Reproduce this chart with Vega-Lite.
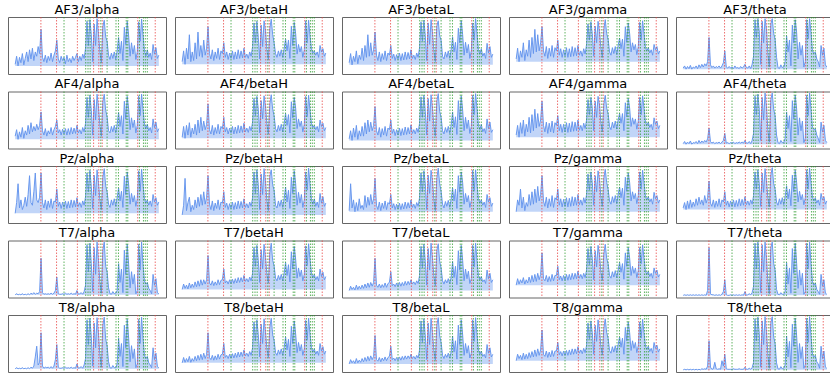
{
"$schema": "https://vega.github.io/schema/vega-lite/v6.json",
"padding": {"left": 7, "top": 3, "right": 0, "bottom": 0},
"background": "white",
"datasets": {"names": [
{"k":"a1","name":"AF3/alpha"},{"k":"a2","name":"AF3/betaH"},{"k":"a3","name":"AF3/betaL"},{"k":"a4","name":"AF3/gamma"},{"k":"a5","name":"AF3/theta"},
{"k":"b1","name":"AF4/alpha"},{"k":"b2","name":"AF4/betaH"},{"k":"b3","name":"AF4/betaL"},{"k":"b4","name":"AF4/gamma"},{"k":"b5","name":"AF4/theta"},
{"k":"c1","name":"Pz/alpha"},{"k":"c2","name":"Pz/betaH"},{"k":"c3","name":"Pz/betaL"},{"k":"c4","name":"Pz/gamma"},{"k":"c5","name":"Pz/theta"},
{"k":"d1","name":"T7/alpha"},{"k":"d2","name":"T7/betaH"},{"k":"d3","name":"T7/betaL"},{"k":"d4","name":"T7/gamma"},{"k":"d5","name":"T7/theta"},
{"k":"e1","name":"T8/alpha"},{"k":"e2","name":"T8/betaH"},{"k":"e3","name":"T8/betaL"},{"k":"e4","name":"T8/gamma"},{"k":"e5","name":"T8/theta"}]},
"data": {"values": [
{"t":0,"a1":15,"a2":20,"a3":18,"a4":25,"a5":8,"b1":20,"b2":18,"b3":15,"b4":22,"b5":6,"c1":15,"c2":12,"c3":20,"c4":18,"c5":25,"d1":2,"d2":12,"d3":10,"d4":20,"d5":1,"e1":3,"e2":14,"e3":12,"e4":18,"e5":1},
{"t":10,"a1":30,"a2":40,"a3":35,"a4":45,"a5":12,"b1":32,"b2":38,"b3":30,"b4":40,"b5":10,"c1":35,"c2":30,"c3":70,"c4":40,"c5":35,"d1":4,"d2":22,"d3":18,"d4":32,"d5":2,"e1":5,"e2":24,"e3":20,"e4":30,"e5":2},
{"t":20,"a1":12,"a2":15,"a3":14,"a4":20,"a5":6,"b1":14,"b2":16,"b3":12,"b4":18,"b5":5,"c1":70,"c2":80,"c3":25,"c4":30,"c5":22,"d1":2,"d2":14,"d3":12,"d4":22,"d5":1,"e1":3,"e2":15,"e3":14,"e4":22,"e5":1},
{"t":30,"a1":28,"a2":45,"a3":30,"a4":40,"a5":11,"b1":28,"b2":40,"b3":35,"b4":45,"b5":9,"c1":25,"c2":20,"c3":40,"c4":60,"c5":38,"d1":3,"d2":20,"d3":16,"d4":30,"d5":2,"e1":4,"e2":22,"e3":18,"e4":28,"e5":2},
{"t":40,"a1":18,"a2":25,"a3":20,"a4":28,"a5":7,"b1":18,"b2":22,"b3":18,"b4":25,"b5":6,"c1":40,"c2":35,"c3":18,"c4":25,"c5":24,"d1":2,"d2":13,"d3":11,"d4":24,"d5":1,"e1":3,"e2":16,"e3":13,"e4":20,"e5":1},
{"t":50,"a1":35,"a2":70,"a3":40,"a4":55,"a5":13,"b1":36,"b2":45,"b3":40,"b4":50,"b5":11,"c1":22,"c2":45,"c3":35,"c4":45,"c5":40,"d1":4,"d2":24,"d3":20,"d4":34,"d5":2,"e1":5,"e2":26,"e3":22,"e4":32,"e5":2},
{"t":60,"a1":14,"a2":20,"a3":16,"a4":22,"a5":6,"b1":16,"b2":18,"b3":14,"b4":20,"b5":5,"c1":30,"c2":18,"c3":20,"c4":20,"c5":26,"d1":2,"d2":15,"d3":12,"d4":22,"d5":1,"e1":3,"e2":15,"e3":14,"e4":21,"e5":1},
{"t":70,"a1":26,"a2":38,"a3":32,"a4":42,"a5":10,"b1":30,"b2":35,"b3":30,"b4":42,"b5":8,"c1":45,"c2":30,"c3":42,"c4":35,"c5":36,"d1":3,"d2":22,"d3":18,"d4":30,"d5":2,"e1":4,"e2":22,"e3":19,"e4":30,"e5":2},
{"t":80,"a1":38,"a2":22,"a3":24,"a4":30,"a5":8,"b1":22,"b2":24,"b3":20,"b4":28,"b5":7,"c1":28,"c2":22,"c3":24,"c4":28,"c5":28,"d1":2,"d2":16,"d3":13,"d4":24,"d5":1,"e1":3,"e2":17,"e3":15,"e4":22,"e5":1},
{"t":90,"a1":20,"a2":55,"a3":45,"a4":60,"a5":12,"b1":40,"b2":42,"b3":38,"b4":55,"b5":10,"c1":50,"c2":40,"c3":30,"c4":50,"c5":42,"d1":4,"d2":26,"d3":20,"d4":35,"d5":2,"e1":5,"e2":26,"e3":22,"e4":33,"e5":2},
{"t":100,"a1":42,"a2":25,"a3":22,"a4":28,"a5":7,"b1":24,"b2":22,"b3":20,"b4":26,"b5":6,"c1":85,"c2":25,"c3":22,"c4":30,"c5":30,"d1":2,"d2":17,"d3":14,"d4":25,"d5":1,"e1":3,"e2":18,"e3":16,"e4":24,"e5":1},
{"t":110,"a1":25,"a2":75,"a3":50,"a4":65,"a5":14,"b1":45,"b2":50,"b3":45,"b4":60,"b5":12,"c1":35,"c2":45,"c3":48,"c4":55,"c5":45,"d1":5,"d2":28,"d3":22,"d4":38,"d5":2,"e1":6,"e2":28,"e3":24,"e4":35,"e5":2},
{"t":120,"a1":45,"a2":30,"a3":28,"a4":35,"a5":9,"b1":28,"b2":26,"b3":24,"b4":30,"b5":7,"c1":30,"c2":28,"c3":26,"c4":32,"c5":32,"d1":3,"d2":18,"d3":15,"d4":26,"d5":1,"e1":4,"e2":19,"e3":17,"e4":25,"e5":1},
{"t":130,"a1":22,"a2":50,"a3":70,"a4":80,"a5":15,"b1":38,"b2":55,"b3":50,"b4":70,"b5":11,"c1":55,"c2":50,"c3":45,"c4":60,"c5":40,"d1":6,"d2":30,"d3":24,"d4":40,"d5":2,"e1":8,"e2":30,"e3":26,"e4":38,"e5":3},
{"t":140,"a1":38,"a2":28,"a3":30,"a4":38,"a5":10,"b1":30,"b2":30,"b3":28,"b4":35,"b5":8,"c1":90,"c2":30,"c3":30,"c4":35,"c5":30,"d1":3,"d2":20,"d3":16,"d4":27,"d5":1,"e1":25,"e2":20,"e3":18,"e4":26,"e5":2},
{"t":150,"a1":30,"a2":60,"a3":55,"a4":70,"a5":16,"b1":42,"b2":48,"b3":46,"b4":62,"b5":12,"c1":40,"c2":55,"c3":50,"c4":65,"c5":48,"d1":5,"d2":30,"d3":25,"d4":42,"d5":2,"e1":45,"e2":32,"e3":27,"e4":40,"e5":3},
{"t":160,"a1":48,"a2":32,"a3":32,"a4":40,"a5":12,"b1":32,"b2":32,"b3":30,"b4":38,"b5":9,"c1":35,"c2":32,"c3":32,"c4":38,"c5":34,"d1":4,"d2":22,"d3":18,"d4":30,"d5":1,"e1":10,"e2":22,"e3":20,"e4":28,"e5":2},
{"t":170,"a1":35,"a2":45,"a3":42,"a4":55,"a5":20,"b1":40,"b2":42,"b3":40,"b4":50,"b5":15,"c1":45,"c2":45,"c3":42,"c4":50,"c5":44,"d1":8,"d2":30,"d3":25,"d4":40,"d5":10,"e1":15,"e2":30,"e3":26,"e4":38,"e5":8},
{"t":180,"a1":80,"a2":85,"a3":75,"a4":85,"a5":65,"b1":65,"b2":80,"b3":75,"b4":85,"b5":35,"c1":90,"c2":85,"c3":80,"c4":85,"c5":75,"d1":70,"d2":75,"d3":70,"d4":80,"d5":90,"e1":70,"e2":70,"e3":65,"e4":75,"e5":55},
{"t":190,"a1":28,"a2":35,"a3":32,"a4":40,"a5":14,"b1":30,"b2":32,"b3":30,"b4":40,"b5":10,"c1":35,"c2":32,"c3":30,"c4":38,"c5":34,"d1":6,"d2":24,"d3":20,"d4":32,"d5":4,"e1":8,"e2":24,"e3":20,"e4":30,"e5":6},
{"t":200,"a1":20,"a2":25,"a3":22,"a4":30,"a5":9,"b1":22,"b2":24,"b3":22,"b4":28,"b5":7,"c1":25,"c2":22,"c3":22,"c4":28,"c5":28,"d1":3,"d2":20,"d3":16,"d4":28,"d5":2,"e1":4,"e2":20,"e3":17,"e4":26,"e5":2},
{"t":210,"a1":32,"a2":42,"a3":38,"a4":48,"a5":12,"b1":34,"b2":40,"b3":36,"b4":46,"b5":9,"c1":40,"c2":38,"c3":36,"c4":45,"c5":40,"d1":4,"d2":28,"d3":22,"d4":38,"d5":2,"e1":6,"e2":28,"e3":24,"e4":36,"e5":3},
{"t":220,"a1":18,"a2":22,"a3":20,"a4":26,"a5":8,"b1":20,"b2":22,"b3":18,"b4":25,"b5":6,"c1":22,"c2":20,"c3":20,"c4":25,"c5":26,"d1":3,"d2":19,"d3":15,"d4":26,"d5":1,"e1":5,"e2":19,"e3":16,"e4":24,"e5":15},
{"t":230,"a1":30,"a2":38,"a3":35,"a4":45,"a5":11,"b1":30,"b2":36,"b3":34,"b4":44,"b5":8,"c1":38,"c2":34,"c3":34,"c4":42,"c5":38,"d1":4,"d2":26,"d3":21,"d4":36,"d5":2,"e1":6,"e2":27,"e3":23,"e4":34,"e5":3},
{"t":240,"a1":22,"a2":26,"a3":24,"a4":30,"a5":9,"b1":24,"b2":25,"b3":22,"b4":28,"b5":7,"c1":26,"c2":24,"c3":24,"c4":28,"c5":28,"d1":3,"d2":20,"d3":16,"d4":27,"d5":1,"e1":4,"e2":20,"e3":18,"e4":25,"e5":2},
{"t":250,"a1":36,"a2":45,"a3":40,"a4":50,"a5":12,"b1":36,"b2":42,"b3":38,"b4":48,"b5":9,"c1":42,"c2":40,"c3":38,"c4":48,"c5":42,"d1":5,"d2":30,"d3":24,"d4":40,"d5":2,"e1":7,"e2":30,"e3":25,"e4":37,"e5":3},
{"t":260,"a1":20,"a2":24,"a3":22,"a4":28,"a5":8,"b1":22,"b2":24,"b3":20,"b4":26,"b5":6,"c1":24,"c2":22,"c3":22,"c4":26,"c5":27,"d1":3,"d2":21,"d3":16,"d4":28,"d5":1,"e1":4,"e2":21,"e3":18,"e4":26,"e5":2},
{"t":270,"a1":32,"a2":40,"a3":36,"a4":46,"a5":12,"b1":32,"b2":38,"b3":35,"b4":45,"b5":9,"c1":38,"c2":36,"c3":35,"c4":44,"c5":40,"d1":5,"d2":29,"d3":23,"d4":38,"d5":3,"e1":8,"e2":29,"e3":24,"e4":36,"e5":18},
{"t":280,"a1":40,"a2":35,"a3":32,"a4":40,"a5":18,"b1":38,"b2":34,"b3":32,"b4":40,"b5":12,"c1":36,"c2":34,"c3":32,"c4":40,"c5":36,"d1":10,"d2":30,"d3":25,"d4":38,"d5":8,"e1":20,"e2":30,"e3":26,"e4":36,"e5":8},
{"t":290,"a1":60,"a2":55,"a3":50,"a4":60,"a5":40,"b1":50,"b2":55,"b3":50,"b4":58,"b5":25,"c1":60,"c2":55,"c3":50,"c4":60,"c5":55,"d1":35,"d2":50,"d3":45,"d4":55,"d5":30,"e1":48,"e2":50,"e3":45,"e4":52,"e5":30},
{"t":300,"a1":25,"a2":28,"a3":26,"a4":32,"a5":10,"b1":26,"b2":28,"b3":25,"b4":30,"b5":7,"c1":28,"c2":26,"c3":25,"c4":30,"c5":30,"d1":4,"d2":24,"d3":19,"d4":30,"d5":2,"e1":6,"e2":24,"e3":20,"e4":29,"e5":3},
{"t":310,"a1":18,"a2":38,"a3":34,"a4":44,"a5":8,"b1":32,"b2":36,"b3":33,"b4":42,"b5":8,"c1":36,"c2":34,"c3":33,"c4":42,"c5":38,"d1":3,"d2":28,"d3":22,"d4":37,"d5":1,"e1":4,"e2":28,"e3":23,"e4":35,"e5":2},
{"t":320,"a1":30,"a2":24,"a3":22,"a4":28,"a5":11,"b1":22,"b2":24,"b3":21,"b4":27,"b5":6,"c1":24,"c2":22,"c3":22,"c4":27,"c5":27,"d1":3,"d2":22,"d3":17,"d4":28,"d5":1,"e1":4,"e2":22,"e3":18,"e4":27,"e5":2},
{"t":330,"a1":22,"a2":36,"a3":33,"a4":42,"a5":8,"b1":33,"b2":35,"b3":32,"b4":42,"b5":8,"c1":36,"c2":33,"c3":32,"c4":41,"c5":38,"d1":4,"d2":30,"d3":24,"d4":38,"d5":2,"e1":5,"e2":30,"e3":24,"e4":36,"e5":2},
{"t":340,"a1":28,"a2":26,"a3":24,"a4":30,"a5":10,"b1":24,"b2":26,"b3":22,"b4":28,"b5":7,"c1":26,"c2":24,"c3":23,"c4":28,"c5":28,"d1":3,"d2":23,"d3":18,"d4":29,"d5":1,"e1":4,"e2":23,"e3":19,"e4":28,"e5":2},
{"t":350,"a1":16,"a2":40,"a3":36,"a4":46,"a5":7,"b1":34,"b2":38,"b3":35,"b4":45,"b5":9,"c1":38,"c2":36,"c3":34,"c4":44,"c5":40,"d1":5,"d2":31,"d3":25,"d4":40,"d5":2,"e1":6,"e2":31,"e3":25,"e4":37,"e5":3},
{"t":360,"a1":32,"a2":24,"a3":22,"a4":28,"a5":12,"b1":22,"b2":24,"b3":21,"b4":27,"b5":6,"c1":24,"c2":22,"c3":22,"c4":27,"c5":27,"d1":3,"d2":23,"d3":18,"d4":29,"d5":1,"e1":4,"e2":23,"e3":19,"e4":28,"e5":2},
{"t":370,"a1":20,"a2":38,"a3":35,"a4":44,"a5":8,"b1":34,"b2":37,"b3":34,"b4":44,"b5":8,"c1":37,"c2":35,"c3":33,"c4":43,"c5":39,"d1":4,"d2":32,"d3":25,"d4":40,"d5":2,"e1":5,"e2":32,"e3":26,"e4":38,"e5":2},
{"t":380,"a1":26,"a2":25,"a3":23,"a4":29,"a5":9,"b1":23,"b2":25,"b3":22,"b4":28,"b5":7,"c1":25,"c2":23,"c3":23,"c4":28,"c5":28,"d1":3,"d2":24,"d3":19,"d4":30,"d5":1,"e1":4,"e2":24,"e3":20,"e4":29,"e5":2},
{"t":390,"a1":18,"a2":42,"a3":38,"a4":48,"a5":7,"b1":36,"b2":40,"b3":37,"b4":47,"b5":9,"c1":40,"c2":38,"c3":36,"c4":46,"c5":42,"d1":5,"d2":34,"d3":27,"d4":42,"d5":2,"e1":6,"e2":34,"e3":27,"e4":40,"e5":3},
{"t":400,"a1":30,"a2":26,"a3":24,"a4":30,"a5":11,"b1":24,"b2":26,"b3":23,"b4":29,"b5":7,"c1":26,"c2":24,"c3":24,"c4":29,"c5":29,"d1":3,"d2":25,"d3":20,"d4":31,"d5":1,"e1":4,"e2":25,"e3":21,"e4":30,"e5":2},
{"t":410,"a1":22,"a2":40,"a3":37,"a4":46,"a5":8,"b1":35,"b2":39,"b3":36,"b4":46,"b5":9,"c1":39,"c2":37,"c3":35,"c4":45,"c5":41,"d1":4,"d2":34,"d3":27,"d4":42,"d5":2,"e1":5,"e2":34,"e3":27,"e4":40,"e5":2},
{"t":420,"a1":28,"a2":27,"a3":25,"a4":31,"a5":10,"b1":25,"b2":27,"b3":24,"b4":30,"b5":7,"c1":27,"c2":25,"c3":25,"c4":30,"c5":30,"d1":3,"d2":26,"d3":21,"d4":32,"d5":1,"e1":4,"e2":26,"e3":22,"e4":31,"e5":2},
{"t":430,"a1":35,"a2":45,"a3":42,"a4":50,"a5":15,"b1":40,"b2":44,"b3":41,"b4":50,"b5":12,"c1":44,"c2":42,"c3":40,"c4":50,"c5":46,"d1":10,"d2":38,"d3":30,"d4":46,"d5":8,"e1":12,"e2":38,"e3":30,"e4":44,"e5":6},
{"t":440,"a1":20,"a2":28,"a3":26,"a4":32,"a5":9,"b1":26,"b2":28,"b3":25,"b4":31,"b5":7,"c1":28,"c2":26,"c3":26,"c4":31,"c5":31,"d1":3,"d2":27,"d3":22,"d4":33,"d5":1,"e1":4,"e2":27,"e3":22,"e4":32,"e5":2},
{"t":450,"a1":30,"a2":34,"a3":32,"a4":40,"a5":8,"b1":32,"b2":35,"b3":32,"b4":40,"b5":7,"c1":35,"c2":33,"c3":32,"c4":40,"c5":38,"d1":4,"d2":32,"d3":26,"d4":40,"d5":2,"e1":5,"e2":32,"e3":26,"e4":38,"e5":2},
{"t":460,"a1":22,"a2":26,"a3":24,"a4":30,"a5":12,"b1":24,"b2":27,"b3":24,"b4":30,"b5":10,"c1":26,"c2":25,"c3":24,"c4":30,"c5":30,"d1":6,"d2":26,"d3":21,"d4":32,"d5":4,"e1":7,"e2":26,"e3":21,"e4":31,"e5":4},
{"t":470,"a1":34,"a2":38,"a3":36,"a4":44,"a5":7,"b1":36,"b2":38,"b3":35,"b4":44,"b5":6,"c1":38,"c2":36,"c3":35,"c4":44,"c5":40,"d1":3,"d2":35,"d3":28,"d4":42,"d5":2,"e1":4,"e2":35,"e3":28,"e4":41,"e5":2},
{"t":480,"a1":26,"a2":30,"a3":28,"a4":34,"a5":15,"b1":28,"b2":30,"b3":27,"b4":34,"b5":12,"c1":30,"c2":28,"c3":28,"c4":34,"c5":32,"d1":8,"d2":28,"d3":23,"d4":34,"d5":6,"e1":10,"e2":28,"e3":23,"e4":33,"e5":5},
{"t":490,"a1":45,"a2":48,"a3":46,"a4":52,"a5":30,"b1":44,"b2":46,"b3":44,"b4":50,"b5":25,"c1":46,"c2":44,"c3":44,"c4":50,"c5":48,"d1":20,"d2":42,"d3":38,"d4":48,"d5":18,"e1":22,"e2":42,"e3":38,"e4":46,"e5":15},
{"t":500,"a1":95,"a2":92,"a3":94,"a4":90,"a5":98,"b1":92,"b2":90,"b3":93,"b4":88,"b5":95,"c1":90,"c2":92,"c3":90,"c4":88,"c5":92,"d1":95,"d2":90,"d3":92,"d4":88,"d5":98,"e1":94,"e2":90,"e3":92,"e4":88,"e5":96},
{"t":510,"a1":50,"a2":55,"a3":58,"a4":60,"a5":65,"b1":55,"b2":58,"b3":55,"b4":60,"b5":60,"c1":55,"c2":52,"c3":55,"c4":58,"c5":60,"d1":45,"d2":55,"d3":52,"d4":58,"d5":50,"e1":48,"e2":55,"e3":52,"e4":58,"e5":55},
{"t":520,"a1":98,"a2":95,"a3":97,"a4":94,"a5":100,"b1":96,"b2":94,"b3":96,"b4":92,"b5":98,"c1":95,"c2":96,"c3":94,"c4":92,"c5":96,"d1":98,"d2":94,"d3":96,"d4":92,"d5":100,"e1":97,"e2":94,"e3":96,"e4":92,"e5":99},
{"t":530,"a1":70,"a2":65,"a3":68,"a4":72,"a5":75,"b1":68,"b2":70,"b3":66,"b4":72,"b5":70,"c1":65,"c2":68,"c3":70,"c4":72,"c5":70,"d1":60,"d2":66,"d3":64,"d4":70,"d5":65,"e1":62,"e2":66,"e3":64,"e4":70,"e5":68},
{"t":540,"a1":20,"a2":25,"a3":22,"a4":30,"a5":15,"b1":22,"b2":26,"b3":22,"b4":30,"b5":12,"c1":24,"c2":22,"c3":22,"c4":30,"c5":28,"d1":8,"d2":25,"d3":20,"d4":30,"d5":6,"e1":8,"e2":25,"e3":20,"e4":30,"e5":6},
{"t":550,"a1":90,"a2":88,"a3":92,"a4":86,"a5":95,"b1":88,"b2":86,"b3":90,"b4":85,"b5":92,"c1":86,"c2":88,"c3":86,"c4":85,"c5":90,"d1":90,"d2":86,"d3":88,"d4":84,"d5":95,"e1":88,"e2":86,"e3":88,"e4":84,"e5":92},
{"t":560,"a1":50,"a2":48,"a3":52,"a4":55,"a5":55,"b1":50,"b2":52,"b3":48,"b4":55,"b5":50,"c1":48,"c2":50,"c3":52,"c4":55,"c5":54,"d1":40,"d2":50,"d3":48,"d4":54,"d5":45,"e1":42,"e2":50,"e3":48,"e4":54,"e5":48},
{"t":570,"a1":100,"a2":96,"a3":98,"a4":95,"a5":100,"b1":98,"b2":95,"b3":97,"b4":94,"b5":100,"c1":96,"c2":98,"c3":95,"c4":94,"c5":98,"d1":100,"d2":96,"d3":98,"d4":94,"d5":100,"e1":98,"e2":96,"e3":97,"e4":94,"e5":100},
{"t":580,"a1":72,"a2":78,"a3":74,"a4":76,"a5":80,"b1":74,"b2":76,"b3":72,"b4":78,"b5":75,"c1":72,"c2":74,"c3":76,"c4":78,"c5":75,"d1":65,"d2":72,"d3":70,"d4":76,"d5":70,"e1":68,"e2":72,"e3":70,"e4":75,"e5":72},
{"t":590,"a1":38,"a2":42,"a3":40,"a4":45,"a5":35,"b1":40,"b2":42,"b3":38,"b4":45,"b5":30,"c1":40,"c2":38,"c3":40,"c4":45,"c5":44,"d1":25,"d2":40,"d3":36,"d4":44,"d5":25,"e1":28,"e2":40,"e3":36,"e4":44,"e5":28},
{"t":600,"a1":18,"a2":24,"a3":20,"a4":28,"a5":10,"b1":20,"b2":24,"b3":20,"b4":28,"b5":9,"c1":22,"c2":20,"c3":20,"c4":28,"c5":27,"d1":5,"d2":24,"d3":19,"d4":29,"d5":4,"e1":6,"e2":24,"e3":19,"e4":29,"e5":4},
{"t":610,"a1":85,"a2":82,"a3":86,"a4":80,"a5":90,"b1":84,"b2":80,"b3":85,"b4":80,"b5":88,"c1":82,"c2":84,"c3":80,"c4":80,"c5":86,"d1":85,"d2":80,"d3":84,"d4":78,"d5":90,"e1":84,"e2":80,"e3":84,"e4":78,"e5":88},
{"t":620,"a1":97,"a2":99,"a3":96,"a4":98,"a5":100,"b1":98,"b2":97,"b3":99,"b4":96,"b5":100,"c1":98,"c2":96,"c3":99,"c4":97,"c5":100,"d1":100,"d2":98,"d3":97,"d4":96,"d5":100,"e1":99,"e2":97,"e3":98,"e4":96,"e5":100},
{"t":630,"a1":66,"a2":70,"a3":68,"a4":72,"a5":72,"b1":68,"b2":70,"b3":66,"b4":72,"b5":70,"c1":66,"c2":68,"c3":70,"c4":72,"c5":70,"d1":55,"d2":66,"d3":64,"d4":70,"d5":60,"e1":58,"e2":66,"e3":64,"e4":70,"e5":62},
{"t":640,"a1":58,"a2":55,"a3":60,"a4":62,"a5":62,"b1":56,"b2":58,"b3":55,"b4":62,"b5":58,"c1":55,"c2":58,"c3":56,"c4":60,"c5":60,"d1":45,"d2":56,"d3":52,"d4":60,"d5":48,"e1":46,"e2":56,"e3":52,"e4":60,"e5":50},
{"t":650,"a1":32,"a2":35,"a3":30,"a4":38,"a5":28,"b1":30,"b2":34,"b3":30,"b4":38,"b5":22,"c1":32,"c2":30,"c3":32,"c4":38,"c5":36,"d1":15,"d2":33,"d3":28,"d4":38,"d5":12,"e1":16,"e2":33,"e3":28,"e4":37,"e5":14},
{"t":660,"a1":24,"a2":28,"a3":25,"a4":32,"a5":9,"b1":26,"b2":28,"b3":24,"b4":32,"b5":8,"c1":26,"c2":25,"c3":25,"c4":32,"c5":30,"d1":4,"d2":28,"d3":22,"d4":33,"d5":3,"e1":5,"e2":28,"e3":22,"e4":32,"e5":3},
{"t":670,"a1":36,"a2":40,"a3":38,"a4":46,"a5":7,"b1":38,"b2":40,"b3":36,"b4":46,"b5":6,"c1":40,"c2":38,"c3":37,"c4":46,"c5":42,"d1":3,"d2":38,"d3":30,"d4":45,"d5":2,"e1":4,"e2":38,"e3":30,"e4":44,"e5":2},
{"t":680,"a1":26,"a2":30,"a3":28,"a4":35,"a5":14,"b1":28,"b2":30,"b3":27,"b4":35,"b5":12,"c1":30,"c2":28,"c3":28,"c4":35,"c5":32,"d1":8,"d2":30,"d3":24,"d4":35,"d5":6,"e1":9,"e2":30,"e3":24,"e4":34,"e5":7},
{"t":690,"a1":38,"a2":42,"a3":40,"a4":48,"a5":9,"b1":40,"b2":42,"b3":38,"b4":48,"b5":8,"c1":42,"c2":40,"c3":39,"c4":48,"c5":44,"d1":4,"d2":40,"d3":32,"d4":47,"d5":3,"e1":5,"e2":40,"e3":32,"e4":46,"e5":3},
{"t":700,"a1":24,"a2":28,"a3":26,"a4":33,"a5":10,"b1":26,"b2":28,"b3":25,"b4":33,"b5":8,"c1":28,"c2":26,"c3":26,"c4":33,"c5":31,"d1":5,"d2":28,"d3":23,"d4":34,"d5":3,"e1":5,"e2":28,"e3":23,"e4":33,"e5":4},
{"t":710,"a1":40,"a2":44,"a3":42,"a4":50,"a5":20,"b1":42,"b2":44,"b3":40,"b4":50,"b5":16,"c1":44,"c2":42,"c3":41,"c4":50,"c5":46,"d1":10,"d2":42,"d3":34,"d4":48,"d5":8,"e1":12,"e2":42,"e3":34,"e4":48,"e5":10},
{"t":720,"a1":65,"a2":62,"a3":66,"a4":64,"a5":68,"b1":64,"b2":62,"b3":65,"b4":62,"b5":65,"c1":62,"c2":64,"c3":62,"c4":64,"c5":66,"d1":60,"d2":62,"d3":64,"d4":62,"d5":62,"e1":60,"e2":62,"e3":64,"e4":62,"e5":64},
{"t":730,"a1":35,"a2":40,"a3":38,"a4":44,"a5":38,"b1":38,"b2":40,"b3":36,"b4":44,"b5":34,"c1":38,"c2":36,"c3":38,"c4":44,"c5":42,"d1":25,"d2":38,"d3":34,"d4":44,"d5":22,"e1":26,"e2":38,"e3":34,"e4":43,"e5":25},
{"t":740,"a1":58,"a2":60,"a3":56,"a4":62,"a5":60,"b1":58,"b2":60,"b3":56,"b4":62,"b5":58,"c1":56,"c2":58,"c3":60,"c4":62,"c5":60,"d1":50,"d2":58,"d3":55,"d4":60,"d5":52,"e1":50,"e2":58,"e3":55,"e4":60,"e5":54},
{"t":750,"a1":22,"a2":26,"a3":24,"a4":30,"a5":12,"b1":24,"b2":26,"b3":23,"b4":30,"b5":10,"c1":26,"c2":24,"c3":24,"c4":30,"c5":29,"d1":6,"d2":26,"d3":21,"d4":31,"d5":5,"e1":7,"e2":26,"e3":21,"e4":30,"e5":5},
{"t":760,"a1":84,"a2":86,"a3":82,"a4":85,"a5":88,"b1":85,"b2":84,"b3":86,"b4":82,"b5":86,"c1":84,"c2":82,"c3":85,"c4":82,"c5":86,"d1":85,"d2":82,"d3":84,"d4":80,"d5":88,"e1":84,"e2":82,"e3":84,"e4":80,"e5":86},
{"t":770,"a1":52,"a2":50,"a3":55,"a4":56,"a5":55,"b1":52,"b2":54,"b3":50,"b4":56,"b5":52,"c1":50,"c2":52,"c3":54,"c4":56,"c5":55,"d1":40,"d2":50,"d3":48,"d4":55,"d5":42,"e1":42,"e2":50,"e3":48,"e4":55,"e5":45},
{"t":780,"a1":95,"a2":93,"a3":96,"a4":92,"a5":98,"b1":94,"b2":92,"b3":95,"b4":90,"b5":96,"c1":92,"c2":94,"c3":92,"c4":90,"c5":95,"d1":96,"d2":92,"d3":94,"d4":90,"d5":98,"e1":95,"e2":92,"e3":94,"e4":90,"e5":97},
{"t":790,"a1":68,"a2":72,"a3":70,"a4":72,"a5":74,"b1":70,"b2":72,"b3":68,"b4":72,"b5":70,"c1":68,"c2":70,"c3":72,"c4":72,"c5":72,"d1":58,"d2":68,"d3":66,"d4":70,"d5":60,"e1":60,"e2":68,"e3":66,"e4":70,"e5":64},
{"t":800,"a1":30,"a2":34,"a3":32,"a4":38,"a5":25,"b1":32,"b2":34,"b3":30,"b4":38,"b5":22,"c1":32,"c2":30,"c3":32,"c4":38,"c5":36,"d1":15,"d2":33,"d3":28,"d4":38,"d5":14,"e1":16,"e2":33,"e3":28,"e4":37,"e5":15},
{"t":810,"a1":55,"a2":52,"a3":56,"a4":55,"a5":56,"b1":54,"b2":52,"b3":55,"b4":54,"b5":54,"c1":52,"c2":54,"c3":52,"c4":55,"c5":56,"d1":45,"d2":52,"d3":50,"d4":55,"d5":48,"e1":46,"e2":52,"e3":50,"e4":55,"e5":50},
{"t":820,"a1":34,"a2":38,"a3":36,"a4":42,"a5":32,"b1":36,"b2":38,"b3":34,"b4":42,"b5":30,"c1":36,"c2":34,"c3":36,"c4":42,"c5":40,"d1":22,"d2":36,"d3":32,"d4":42,"d5":20,"e1":22,"e2":36,"e3":32,"e4":41,"e5":22},
{"t":830,"a1":50,"a2":48,"a3":52,"a4":52,"a5":50,"b1":50,"b2":48,"b3":50,"b4":52,"b5":48,"c1":48,"c2":50,"c3":48,"c4":52,"c5":50,"d1":40,"d2":48,"d3":46,"d4":52,"d5":42,"e1":40,"e2":48,"e3":46,"e4":52,"e5":44},
{"t":840,"a1":24,"a2":28,"a3":26,"a4":33,"a5":10,"b1":26,"b2":28,"b3":25,"b4":33,"b5":8,"c1":28,"c2":26,"c3":26,"c4":33,"c5":31,"d1":4,"d2":28,"d3":23,"d4":34,"d5":3,"e1":5,"e2":28,"e3":23,"e4":33,"e5":4},
{"t":850,"a1":38,"a2":42,"a3":40,"a4":48,"a5":20,"b1":40,"b2":42,"b3":38,"b4":48,"b5":16,"c1":42,"c2":40,"c3":39,"c4":48,"c5":44,"d1":10,"d2":40,"d3":32,"d4":47,"d5":8,"e1":12,"e2":40,"e3":32,"e4":46,"e5":10},
{"t":860,"a1":94,"a2":96,"a3":92,"a4":93,"a5":98,"b1":95,"b2":94,"b3":96,"b4":92,"b5":96,"c1":94,"c2":92,"c3":95,"c4":92,"c5":96,"d1":96,"d2":93,"d3":94,"d4":90,"d5":98,"e1":95,"e2":93,"e3":94,"e4":90,"e5":97},
{"t":870,"a1":58,"a2":55,"a3":60,"a4":60,"a5":62,"b1":58,"b2":56,"b3":60,"b4":60,"b5":58,"c1":56,"c2":58,"c3":56,"c4":60,"c5":60,"d1":48,"d2":56,"d3":54,"d4":60,"d5":50,"e1":50,"e2":56,"e3":54,"e4":60,"e5":52},
{"t":880,"a1":99,"a2":97,"a3":100,"a4":96,"a5":100,"b1":98,"b2":96,"b3":99,"b4":95,"b5":100,"c1":97,"c2":99,"c3":96,"c4":95,"c5":99,"d1":100,"d2":97,"d3":98,"d4":95,"d5":100,"e1":99,"e2":97,"e3":98,"e4":95,"e5":100},
{"t":890,"a1":70,"a2":68,"a3":72,"a4":72,"a5":74,"b1":70,"b2":68,"b3":72,"b4":72,"b5":70,"c1":68,"c2":70,"c3":68,"c4":72,"c5":72,"d1":58,"d2":68,"d3":66,"d4":70,"d5":60,"e1":60,"e2":68,"e3":66,"e4":70,"e5":64},
{"t":900,"a1":40,"a2":44,"a3":42,"a4":46,"a5":40,"b1":42,"b2":44,"b3":40,"b4":46,"b5":36,"c1":42,"c2":40,"c3":42,"c4":46,"c5":45,"d1":28,"d2":42,"d3":38,"d4":46,"d5":26,"e1":28,"e2":42,"e3":38,"e4":45,"e5":30},
{"t":910,"a1":30,"a2":36,"a3":34,"a4":40,"a5":35,"b1":34,"b2":36,"b3":32,"b4":40,"b5":32,"c1":34,"c2":32,"c3":34,"c4":40,"c5":38,"d1":22,"d2":34,"d3":30,"d4":40,"d5":20,"e1":22,"e2":34,"e3":30,"e4":39,"e5":25},
{"t":920,"a1":42,"a2":40,"a3":44,"a4":46,"a5":38,"b1":42,"b2":40,"b3":42,"b4":46,"b5":34,"c1":40,"c2":42,"c3":40,"c4":46,"c5":44,"d1":25,"d2":40,"d3":36,"d4":46,"d5":24,"e1":26,"e2":40,"e3":36,"e4":45,"e5":28},
{"t":930,"a1":28,"a2":32,"a3":30,"a4":36,"a5":25,"b1":30,"b2":32,"b3":28,"b4":36,"b5":22,"c1":30,"c2":28,"c3":30,"c4":36,"c5":34,"d1":14,"d2":30,"d3":26,"d4":36,"d5":12,"e1":14,"e2":30,"e3":26,"e4":35,"e5":16},
{"t":940,"a1":36,"a2":38,"a3":36,"a4":42,"a5":20,"b1":36,"b2":38,"b3":34,"b4":42,"b5":16,"c1":38,"c2":36,"c3":36,"c4":42,"c5":40,"d1":10,"d2":36,"d3":30,"d4":42,"d5":8,"e1":10,"e2":36,"e3":30,"e4":41,"e5":12},
{"t":950,"a1":24,"a2":28,"a3":26,"a4":32,"a5":10,"b1":26,"b2":28,"b3":25,"b4":32,"b5":8,"c1":28,"c2":26,"c3":26,"c4":32,"c5":30,"d1":4,"d2":28,"d3":23,"d4":33,"d5":3,"e1":5,"e2":28,"e3":23,"e4":32,"e5":4},
{"t":960,"a1":52,"a2":50,"a3":54,"a4":52,"a5":50,"b1":52,"b2":50,"b3":52,"b4":54,"b5":46,"c1":50,"c2":52,"c3":50,"c4":54,"c5":52,"d1":40,"d2":50,"d3":48,"d4":52,"d5":40,"e1":42,"e2":50,"e3":48,"e4":52,"e5":45},
{"t":970,"a1":34,"a2":38,"a3":36,"a4":42,"a5":32,"b1":36,"b2":38,"b3":34,"b4":42,"b5":28,"c1":36,"c2":34,"c3":36,"c4":42,"c5":40,"d1":20,"d2":36,"d3":32,"d4":42,"d5":18,"e1":20,"e2":36,"e3":32,"e4":41,"e5":22},
{"t":980,"a1":46,"a2":44,"a3":48,"a4":48,"a5":45,"b1":46,"b2":44,"b3":46,"b4":48,"b5":40,"c1":44,"c2":46,"c3":44,"c4":48,"c5":46,"d1":32,"d2":44,"d3":42,"d4":48,"d5":30,"e1":32,"e2":44,"e3":42,"e4":47,"e5":36},
{"t":990,"a1":26,"a2":30,"a3":28,"a4":34,"a5":14,"b1":28,"b2":30,"b3":27,"b4":34,"b5":12,"c1":30,"c2":28,"c3":28,"c4":34,"c5":32,"d1":6,"d2":30,"d3":25,"d4":35,"d5":5,"e1":7,"e2":30,"e3":25,"e4":34,"e5":6},
{"t":1000,"a1":32,"a2":36,"a3":34,"a4":40,"a5":10,"b1":34,"b2":36,"b3":32,"b4":40,"b5":8,"c1":36,"c2":34,"c3":34,"c4":40,"c5":38,"d1":4,"d2":36,"d3":30,"d4":40,"d5":3,"e1":5,"e2":36,"e3":30,"e4":40,"e5":4},
{"t":179,"ev":"r"},{"t":288,"ev":"r"},{"t":433,"ev":"r"},{"t":546,"ev":"r"},{"t":582,"ev":"r"},{"t":606,"ev":"r"},{"t":853,"ev":"r"},{"t":975,"ev":"r"},
{"t":340,"ev":"g"},{"t":491,"ev":"g"},{"t":507,"ev":"g"},{"t":522,"ev":"g"},{"t":596,"ev":"g"},{"t":640,"ev":"g"},{"t":702,"ev":"g"},{"t":719,"ev":"g"},{"t":773,"ev":"g"},{"t":784,"ev":"g"},{"t":865,"ev":"g"},{"t":893,"ev":"g"},{"t":906,"ev":"g"},{"t":920,"ev":"g"}
]},
"transform": [
{"fold": ["a1","a2","a3","a4","a5","b1","b2","b3","b4","b5","c1","c2","c3","c4","c5","d1","d2","d3","d4","d5","e1","e2","e3","e4","e5"], "as": ["k","v"]},
{"lookup": "k", "from": {"data": {"name": "names"}, "key": "k", "fields": ["name"]}}
],
"facet": {"field": "name", "type": "nominal",
  "sort": ["AF3/alpha","AF3/betaH","AF3/betaL","AF3/gamma","AF3/theta","AF4/alpha","AF4/betaH","AF4/betaL","AF4/gamma","AF4/theta","Pz/alpha","Pz/betaH","Pz/betaL","Pz/gamma","Pz/theta","T7/alpha","T7/betaH","T7/betaL","T7/gamma","T7/theta","T8/alpha","T8/betaH","T8/betaL","T8/gamma","T8/theta"],
  "header": {"title": null, "labelFontSize": 13, "labelFont": "DejaVu Sans", "labelColor": "black", "labelPadding": 0}},
"columns": 5,
"spacing": {"row": 2.5, "column": 7},
"spec": {
  "width": 158, "height": 57,
  "layer": [
    {"transform": [{"filter": "isValid(datum.v)"}, {"joinaggregate": [{"op": "min", "field": "v", "as": "lo"}], "groupby": ["k"]}],
     "mark": {"type": "area", "color": "#6495ED", "opacity": 0.4, "clip": true},
     "encoding": {
       "x": {"field": "t", "type": "quantitative", "scale": {"domain": [-50, 1050], "nice": false, "zero": false}, "axis": null},
       "y": {"field": "v", "type": "quantitative", "scale": {"domain": [-3, 103], "nice": false, "zero": false}, "axis": null},
       "y2": {"field": "lo"}}},
    {"transform": [{"filter": "isValid(datum.v)"}],
     "mark": {"type": "line", "color": "#6495ED", "strokeWidth": 1, "opacity": 0.95, "clip": true},
     "encoding": {
       "x": {"field": "t", "type": "quantitative"},
       "y": {"field": "v", "type": "quantitative"}}},
    {"transform": [{"filter": "isValid(datum.ev)"}],
     "mark": {"type": "rule", "strokeDash": [1.5, 1.5], "strokeWidth": 1, "opacity": 0.75},
     "encoding": {
       "x": {"field": "t", "type": "quantitative"},
       "color": {"field": "ev", "type": "nominal", "scale": {"domain": ["r", "g"], "range": ["#e8403f", "#2a9a2a"]}, "legend": null}}}
  ]
},
"config": {"view": {"stroke": "#666666", "strokeWidth": 1}}
}
